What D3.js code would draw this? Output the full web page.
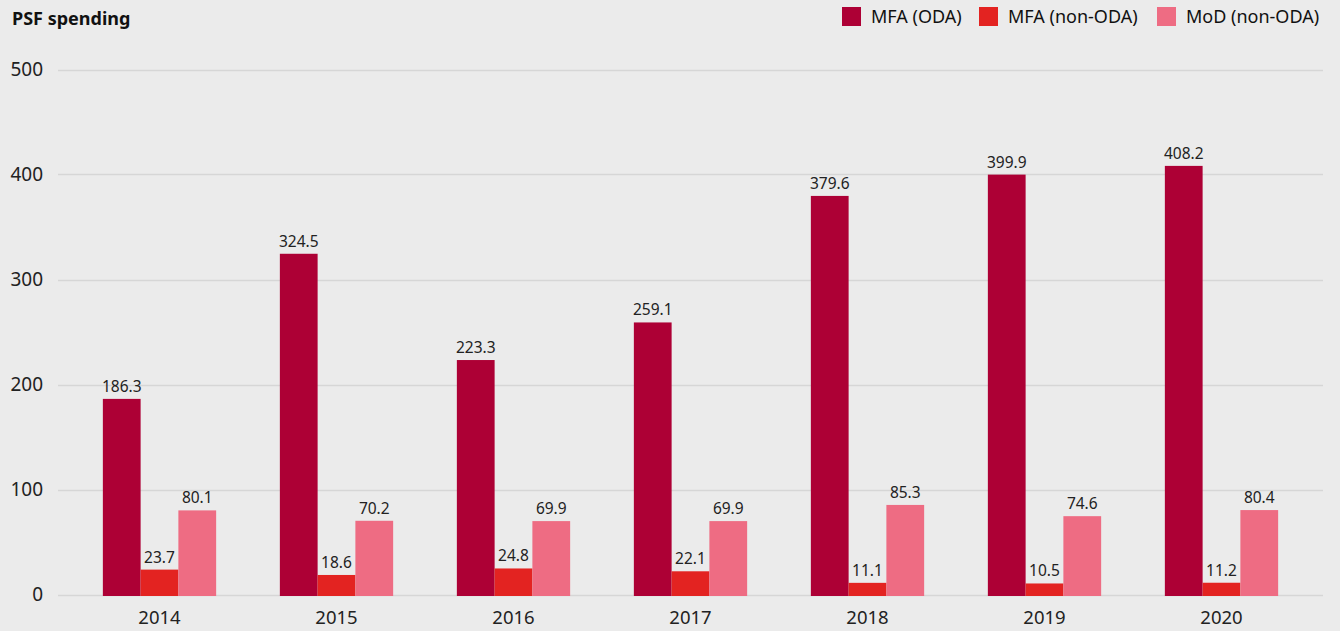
<!DOCTYPE html>
<html><head><meta charset="utf-8">
<script src="https://cdn.jsdelivr.net/npm/d3@7"></script>
<style>
html,body{margin:0;padding:0;background:#ebebeb;}
svg{display:block;font-family:"Noto Sans",sans-serif;}
</style></head>
<body>
<svg id="chart" width="1340" height="631"></svg>
<script>
const years = ["2014","2015","2016","2017","2018","2019","2020"];
const seriesNames = ["MFA (ODA)","MFA (non-ODA)","MoD (non-ODA)"];
const mfaOda = [186.3,324.5,223.3,259.1,379.6,399.9,408.2];
const mfaNonOda = [23.7,18.6,24.8,22.1,11.1,10.5,11.2];
const modNonOda = [80.1,70.2,69.9,69.9,85.3,74.6,80.4];
const yTicks = [0,100,200,300,400,500];
const colors = ["#ad0035","#e32321","#ee6c83"];

const seriesValues = [mfaOda, mfaNonOda, modNonOda];
const svg = d3.select("#chart");
const gridLeft = 58, gridRight = 1323;

const x = d3.scaleBand().domain(years).range([71, 1310]).paddingInner(0.36).paddingOuter(0.18);
const xs = d3.scaleBand().domain(seriesNames).range([0, x.bandwidth()]);
const y = d3.scaleLinear().domain([0,500]).range([594.5, 69.5]);

svg.append("text").attr("x",12).attr("y",25).attr("font-size",18).attr("font-weight","bold")
  .attr("fill","#111").text("PSF spending");

svg.append("g").selectAll("line").data(yTicks).join("line")
  .attr("x1",gridLeft).attr("x2",gridRight)
  .attr("y1",d=>Math.round(y(d))+0.5).attr("y2",d=>Math.round(y(d))+0.5)
  .attr("stroke","#d6d6d6").attr("stroke-width",1.5);
const yAxis = d3.axisLeft(y).tickValues(yTicks).tickSize(0).tickPadding(0);
const gy = svg.append("g").attr("transform","translate(43,0)").call(yAxis);
gy.select(".domain").remove();
gy.selectAll("text").attr("font-size",19).attr("fill","#222").attr("font-family","Noto Sans");

const groups = svg.append("g").selectAll("g").data(years).join("g")
  .attr("transform",d=>`translate(${x(d)},0)`);
seriesNames.forEach((s,si)=>{
  groups.append("rect")
    .attr("x",xs(s)).attr("width",xs.bandwidth())
    .attr("y",(d,i)=>y(seriesValues[si][i]))
    .attr("height",(d,i)=>y(0)+1.5-y(seriesValues[si][i]))
    .attr("fill",colors[si]);
  groups.append("text")
    .attr("x",xs(s)+xs.bandwidth()/2)
    .attr("y",(d,i)=>y(seriesValues[si][i])-7)
    .attr("text-anchor","middle").attr("font-size",15.5).attr("fill","#222")
    .text((d,i)=>seriesValues[si][i].toFixed(1));
});

const xAxis = d3.axisBottom(x).tickSize(0).tickPadding(0);
const gx = svg.append("g").attr("transform","translate(0,626)").call(xAxis);
gx.select(".domain").remove();
gx.selectAll("text").attr("font-size",18.5).attr("fill","#222").attr("font-family","Noto Sans").attr("dy","-0.1em").attr("y",0);

const legendX = [842, 979, 1157];
const lg = svg.append("g").selectAll("g").data(seriesNames).join("g")
  .attr("transform",(d,i)=>`translate(${legendX[i]},7)`);
lg.append("rect").attr("width",19).attr("height",19).attr("fill",(d,i)=>colors[i]);
lg.append("text").attr("x",29).attr("y",16).attr("font-size",18).attr("fill","#111").text(d=>d);
</script>
</body></html>
